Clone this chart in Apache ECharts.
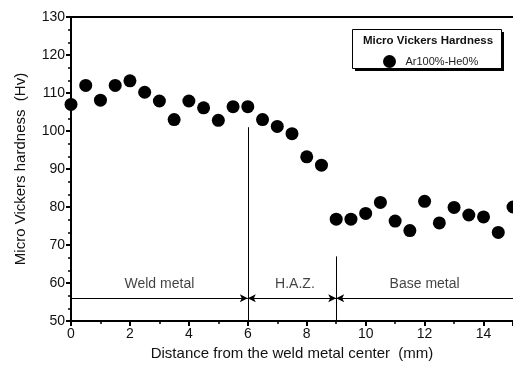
<!DOCTYPE html>
<html>
<head>
<meta charset="utf-8">
<script src="https://cdn.jsdelivr.net/npm/echarts@6/dist/echarts.min.js"></script>
<style>
  html, body { margin: 0; padding: 0; background: #fff; }
  #chart { width: 513px; height: 376px; }
</style>
</head>
<body>
<div id="chart"></div>
<script>
// Micro Vickers hardness profile across the weld (Ar100%-He0%)
const distance = [0, 0.5, 1, 1.5, 2, 2.5, 3, 3.5, 4, 4.5, 5, 5.5, 6, 6.5, 7, 7.5, 8, 8.5,
                  9, 9.5, 10, 10.5, 11, 11.5, 12, 12.5, 13, 13.5, 14, 14.5, 15];
const hardness = [107.0, 112.0, 108.1, 112.0, 113.2, 110.2, 107.9, 103.0, 107.9, 106.1, 102.8, 106.4, 106.4, 103.0, 101.2, 99.3, 93.2, 91.0,
                  76.8, 76.8, 78.3, 81.2, 76.3, 73.8, 81.5, 75.8, 79.9, 77.9, 77.4, 73.3, 80.0];

// zone boundaries (mm) and the top of each boundary line (Hv)
const zoneBounds = [6, 9];
const boundTops = [101, 67];
// zone names and where they sit
const zoneNames = ['Weld metal', 'H.A.Z.', 'Base metal'];
const zoneNameX = [3, 7.6, 12];
const zoneNameY = 59.6;
// dimension arrows along the bottom
const arrowY = 56;
const zoneSpans = [[0, 6], [6, 9], [9, 15]];
const seriesName = 'Ar100%-He0%';

const font = 'Liberation Sans, Arial, sans-serif';

const chart = echarts.init(document.getElementById('chart'));

const arrowSymbols = [['none', 'arrow'], ['arrow', 'arrow'], ['arrow', 'none']];
const arrowLines = zoneSpans.map((s, i) => [
  { coord: [s[0], arrowY], symbol: arrowSymbols[i][0] },
  { coord: [s[1], arrowY], symbol: arrowSymbols[i][1] }
]);
const boundLines = zoneBounds.map((b, i) => [
  { coord: [b, 50], symbol: 'none' },
  { coord: [b, boundTops[i]], symbol: 'none' }
]);

chart.setOption({
  animation: false,
  backgroundColor: '#fff',
  grid: { left: 71, right: -2, top: 17, bottom: 55 },
  xAxis: [{
    type: 'value', min: 0, max: 15, interval: 2,
    name: 'Distance from the weld metal center  (mm)',
    nameLocation: 'middle', nameGap: 22,
    nameTextStyle: { fontFamily: font, fontSize: 15, color: '#111' },
    axisLine: { lineStyle: { color: '#000', width: 2 } },
    axisTick: { inside: false, length: 5, lineStyle: { color: '#000', width: 2 } },
    minorTick: { show: true, splitNumber: 2, length: 3, lineStyle: { color: '#000', width: 1.5 } },
    axisLabel: { fontFamily: font, fontSize: 14, color: '#111', margin: 6, showMaxLabel: false },
    splitLine: { show: false }
  }, {
    type: 'value', min: 0, max: 15, position: 'top',
    axisLine: { show: true, lineStyle: { color: '#000', width: 2 } },
    axisTick: { show: false }, axisLabel: { show: false }, splitLine: { show: false }
  }],
  yAxis: {
    type: 'value', min: 50, max: 130, interval: 10,
    name: 'Micro Vickers hardness  (Hv)',
    nameLocation: 'middle', nameGap: 43,
    nameTextStyle: { fontFamily: font, fontSize: 15, color: '#111' },
    axisLine: { show: true, lineStyle: { color: '#000', width: 2 } },
    axisTick: { length: 5, lineStyle: { color: '#000', width: 2 } },
    minorTick: { show: true, splitNumber: 3, length: 3, lineStyle: { color: '#000', width: 1.5 } },
    axisLabel: { fontFamily: font, fontSize: 14, color: '#111', margin: 6 },
    splitLine: { show: false }
  },
  legend: {
    data: [{ name: seriesName, icon: 'circle' }],
    left: 378, top: 50, z: 10,
    itemWidth: 14, itemHeight: 13, itemGap: 4,
    textStyle: { fontFamily: font, fontSize: 11, color: '#222', padding: [0, 0, 0, 4] }
  },
  graphic: [
    { type: 'rect', z: 5, shape: { x: 355, y: 32, width: 149, height: 39 }, style: { fill: '#000' } },
    { type: 'rect', z: 6, shape: { x: 352.5, y: 29.5, width: 149, height: 39 }, style: { fill: '#fff', stroke: '#000', lineWidth: 1 } },
    { type: 'text', z: 7, style: { x: 428, y: 41, text: 'Micro Vickers Hardness', fontFamily: font, fontSize: 11.5, fontWeight: 'bold', fill: '#111', textAlign: 'center', textVerticalAlign: 'middle' } }
  ],
  series: [
    {
      name: seriesName, type: 'scatter',
      data: distance.map((d, i) => [d, hardness[i]]),
      symbol: 'circle', symbolSize: 13,
      itemStyle: { color: '#000', opacity: 1 },
      z: 3
    },
    {
      name: 'zones', type: 'scatter', data: [], silent: true,
      markLine: {
        silent: true, symbolSize: [6, 8], animation: false,
        label: { show: false },
        lineStyle: { color: '#000', width: 1, type: 'solid' },
        data: arrowLines.concat(boundLines)
      }
    },
    {
      name: 'zoneNames', type: 'scatter', silent: true, symbolSize: 0,
      data: zoneNames.map((n, i) => ({ value: [zoneNameX[i], zoneNameY], name: n })),
      label: { show: true, position: 'inside', formatter: p => p.name, fontFamily: font, fontSize: 14, color: '#111' }
    }
  ]
});
</script>
</body>
</html>
